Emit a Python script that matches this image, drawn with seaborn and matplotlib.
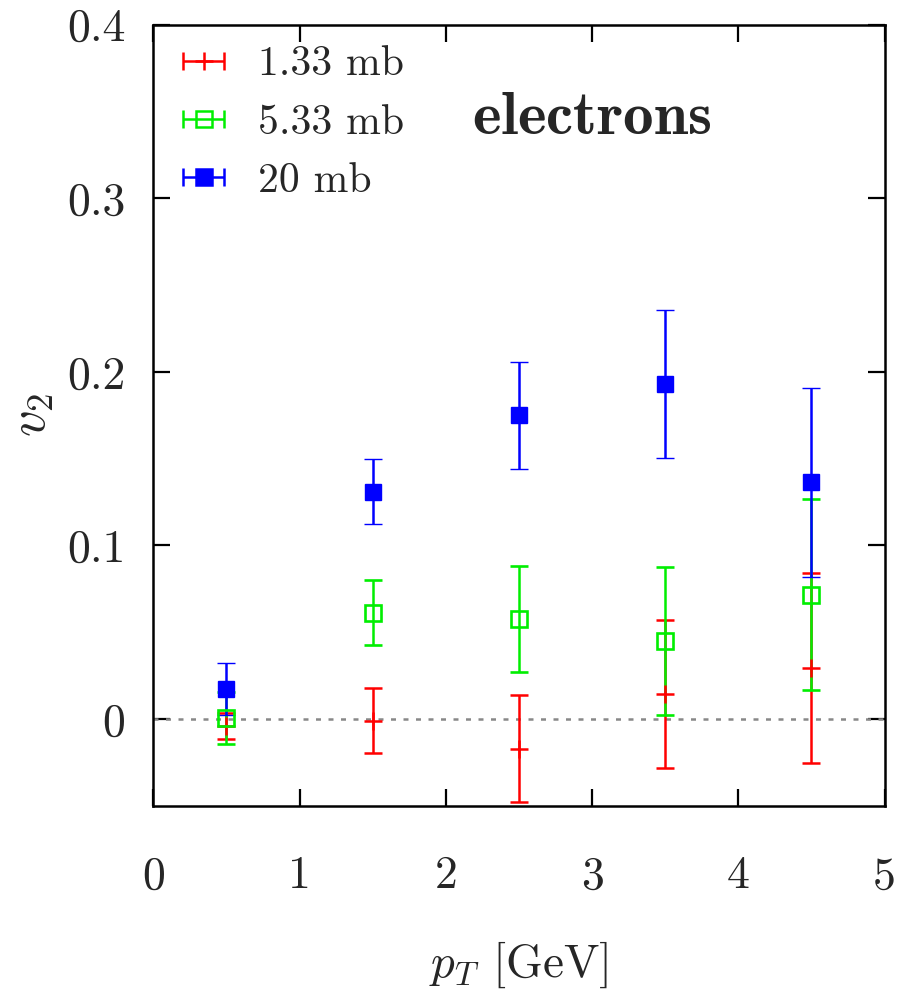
import numpy as np
import matplotlib
matplotlib.use("Agg")
import matplotlib.pyplot as plt
import seaborn as sns

# v2 of electrons vs pT for three cross sections
pt = [0.5, 1.5, 2.5, 3.5, 4.5]
v2_133 = [-0.004, -0.001, -0.017, 0.0145, 0.0295]
err_133 = [0.0077, 0.0187, 0.0306, 0.0428, 0.0548]
v2_533 = [0.0005, 0.0613, 0.0575, 0.045, 0.0715]
err_533 = [0.0148, 0.0186, 0.0307, 0.0425, 0.055]
v2_20 = [0.0173, 0.131, 0.175, 0.193, 0.1364]
err_20 = [0.0151, 0.0187, 0.031, 0.0427, 0.0545]

labels = ["1.33 mb", "5.33 mb", "20 mb"]
xticks = [0, 1, 2, 3, 4, 5]
yticks = [0, 0.1, 0.2, 0.3, 0.4]

sns.set_theme(style="ticks")
plt.rcParams["font.family"] = "serif"
plt.rcParams["font.serif"] = ["cmr10"]
plt.rcParams["mathtext.fontset"] = "cm"
plt.rcParams["axes.unicode_minus"] = False

fig = plt.figure(figsize=(9.12, 9.96), dpi=100)
ax = fig.add_axes([0.168, 0.191, 0.802, 0.784])

ax.axhline(0, color="#888888", ls=(0, (2, 3)), lw=1.8, zorder=1)

common = dict(capsize=6.5, capthick=1.8, elinewidth=1.8, linestyle="none")
ax.errorbar(pt, v2_133, yerr=err_133, color="#ff0000", marker="+",
            markersize=13, mew=1.8, **common)
ax.errorbar(pt, v2_533, yerr=err_533, color="#00ee00", marker="s",
            markersize=12, mfc="none", mew=1.9, **common)
ax.errorbar(pt, v2_20, yerr=err_20, color="#0000ff", marker="s",
            markersize=12, mfc="#0000ff", mew=1.0, **common)

# gnuplot-like legend samples: horizontal bars with caps
hs = []
for c, m, mfc in [("#ff0000", "+", "#ff0000"), ("#00ee00", "s", "none"),
                  ("#0000ff", "s", "#0000ff")]:
    h = ax.errorbar([np.nan], [np.nan], xerr=[1], color=c, marker=m,
                    markersize=12 if m == "s" else 13, mfc=mfc,
                    mew=1.8, capsize=6.5, capthick=1.8, elinewidth=1.8,
                    linestyle="none")
    hs.append(h)
leg = ax.legend(hs, labels, loc="upper left", frameon=False, fontsize=30,
                handlelength=1.5, handletextpad=0.55, labelspacing=0.5,
                borderaxespad=0.2, bbox_to_anchor=(-0.008, 1.005))

ax.text(3.0, 0.346, r"$\mathbf{electrons}$", fontsize=44, ha="center",
        va="center")

ax.set_xlim(0, 5)
ax.set_ylim(-0.05, 0.4)
ax.set_xticks(xticks, [str(t) for t in xticks])
ax.set_yticks(yticks, ["0", "0.1", "0.2", "0.3", "0.4"])
ax.tick_params(direction="in", length=12, width=1.6, labelsize=33,
               top=True, right=True, color="black")
ax.tick_params(axis="x", pad=36)
ax.tick_params(axis="y", pad=20)
for s in ax.spines.values():
    s.set_linewidth(1.8)
    s.set_color("black")

ax.set_xlabel(r"$p_T$ [GeV]", fontsize=34, labelpad=30)
ax.set_ylabel(r"$v_2$", fontsize=38, labelpad=8)

fig.savefig("out.png", dpi=100, facecolor="white")
